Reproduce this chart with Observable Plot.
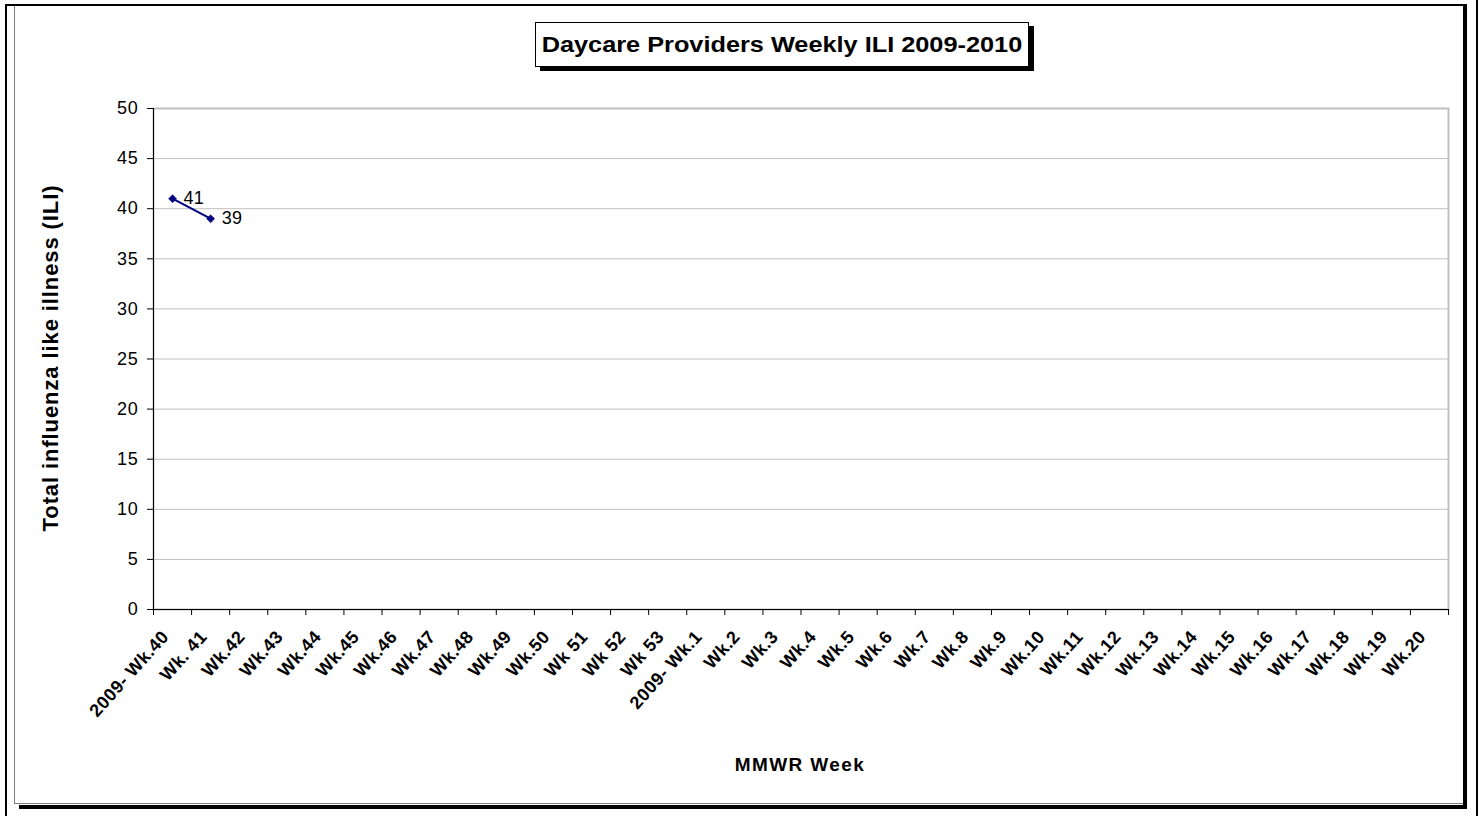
<!DOCTYPE html>
<html>
<head>
<meta charset="utf-8">
<script src="https://cdn.jsdelivr.net/npm/d3@7"></script>
<script src="https://cdn.jsdelivr.net/npm/@observablehq/plot@0.6"></script>
<style>
  html, body { margin: 0; padding: 0; background: #fff; }
  body { width: 1481px; height: 816px; position: relative; overflow: hidden; font-family: Arial, "Liberation Sans", sans-serif; }
  .blk { position: absolute; background: #000; }
  #chart { position: absolute; left: 0; top: 0; }
  #chart g[aria-label="y-axis tick label"] { font-size: 18px; letter-spacing: 0.8px; }
  #chart g[aria-label="x-axis tick label"] { font-size: 18px; font-weight: bold; letter-spacing: 0.5px; }
  #chart g[aria-label="text"] { font-size: 18px; letter-spacing: 0.3px; }
  #titlebox { position: absolute; left: 535px; top: 22px; width: 492px; height: 43px; border: 1px solid #000; box-shadow: 5px 4px 0 #000; background: #fff; display: flex; align-items: center; justify-content: center; }
  #titlebox span { font-weight: bold; font-size: 22px; display: inline-block; transform: scaleX(1.15); white-space: nowrap; }
  #xtitle { position: absolute; left: 600px; width: 400px; top: 754px; text-align: center; font-weight: bold; font-size: 19px; letter-spacing: 1.4px; }
  #ytitle { position: absolute; left: 51px; top: 358px; transform: translate(-50%, -50%) rotate(-90deg); font-weight: bold; font-size: 22px; letter-spacing: 0.9px; white-space: nowrap; }
</style>
</head>
<body>
<div id="chart"></div>
<script>
// ---- data ----
const weeks = [
  "2009- Wk.40", "Wk. 41", "Wk.42", "Wk.43", "Wk.44", "Wk.45", "Wk.46", "Wk.47",
  "Wk.48", "Wk.49", "Wk.50", "Wk 51", "Wk 52", "Wk 53", "2009- Wk.1", "Wk.2",
  "Wk.3", "Wk.4", "Wk.5", "Wk.6", "Wk.7", "Wk.8", "Wk.9", "Wk.10", "Wk.11",
  "Wk.12", "Wk.13", "Wk.14", "Wk.15", "Wk.16", "Wk.17", "Wk.18", "Wk.19", "Wk.20"
];
const iliWeeks = ["2009- Wk.40", "Wk. 41"];
const iliValues = [41, 39];
const yTicks = [0, 5, 10, 15, 20, 25, 30, 35, 40, 45, 50];

const titleText = "Daycare Providers Weekly ILI 2009-2010";
const xTitle = "MMWR Week";
const yTitle = "Total influenza like illness (ILI)";

// ---- derived table ----
const data = iliWeeks.map((w, i) => ({ week: w, value: iliValues[i] }));
const pos = w => weeks.indexOf(w) + 0.5;          // category centre on the index scale
const boundaries = d3.range(weeks.length + 1);      // tick marks between categories
const centres = weeks.map((w, i) => i + 0.5);

const font = "Arial, 'Liberation Sans', sans-serif";

const chart = Plot.plot({
  width: 1481,
  height: 816,
  marginLeft: 153,
  marginRight: 33,
  marginTop: 108,
  marginBottom: 207,
  style: { fontFamily: font, background: "transparent", overflow: "visible" },
  x: { type: "linear", domain: [0, weeks.length], axis: null },
  y: { domain: [0, 50], axis: null },
  marks: [
    Plot.gridY(yTicks, { stroke: "#c0c0c0", strokeOpacity: 1, strokeWidth: 1 }),
    Plot.frame({ stroke: "#c0c0c0", strokeWidth: 2 }),
    Plot.ruleX([0], { stroke: "#000", strokeWidth: 1 }),
    Plot.ruleY([0], { stroke: "#000", strokeWidth: 1 }),
    Plot.axisY({ ticks: yTicks, tickSize: 6, tickPadding: 9, fontSize: 18, label: null, stroke: "#000", color: "#000" }),
    Plot.axisX({ ticks: boundaries, tickSize: 6, tickFormat: () => "", label: null, stroke: "#000" }),
    Plot.axisX({
      ticks: centres, tickSize: 0, tickPadding: 24, tickRotate: -48,
      tickFormat: v => weeks[Math.floor(v)],
      fontSize: 18, fontWeight: "bold", label: null, color: "#000",
      dx: -7
    }),
    Plot.line(data, { x: d => pos(d.week), y: "value", stroke: "#000080", strokeWidth: 2 }),
    Plot.dot(data, { x: d => pos(d.week), y: "value", symbol: "square", r: 3.2, rotate: 45, fill: "#000080", stroke: "#000080", strokeWidth: 0.5 }),
    Plot.text(data, { x: d => pos(d.week), y: "value", text: d => String(d.value), dx: 11, textAnchor: "start", fontSize: 18, fill: "#000" })
  ]
});
document.getElementById("chart").appendChild(chart);
</script>
<!-- frame lines -->
<div class="blk" style="left:5px;top:4px;width:2px;height:812px;"></div>
<div class="blk" style="left:5px;top:4px;width:1462px;height:2px;"></div>
<div class="blk" style="left:1476px;top:0px;width:2px;height:816px;"></div>
<div style="position:absolute;left:14px;top:6px;width:1px;height:798px;background:#808080;"></div>
<div style="position:absolute;left:14px;top:803px;width:1449px;height:1px;background:#808080;"></div>
<div class="blk" style="left:1463px;top:4px;width:4px;height:805px;"></div>
<div class="blk" style="left:19px;top:805px;width:1448px;height:4px;"></div>
<!-- titles -->
<div id="titlebox"><span></span></div>
<div id="xtitle"></div>
<div id="ytitle"></div>
<script>
document.querySelector("#titlebox span").textContent = titleText;
document.getElementById("xtitle").textContent = xTitle;
document.getElementById("ytitle").textContent = yTitle;
</script>
</body>
</html>
